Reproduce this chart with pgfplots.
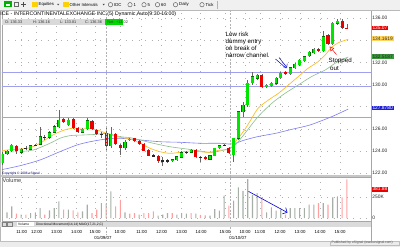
\documentclass[border=0pt]{standalone}
\usepackage{fontspec}
\setmainfont{Liberation Sans}
\usepackage{pgfplots}
\pgfplotsset{compat=1.18}
\usepackage{pgfplotstable}
\usetikzlibrary{arrows.meta}
\newcommand{\fs}[1]{\fontsize{#1}{#1}\selectfont}
\definecolor{cup}{RGB}{0,230,0}
\definecolor{cupedge}{RGB}{0,110,0}
\definecolor{cdn}{RGB}{235,0,0}
\definecolor{maY}{RGB}{255,190,40}
\definecolor{maG}{RGB}{140,190,140}
\definecolor{maB}{RGB}{125,125,240}
\definecolor{hline}{RGB}{160,160,238}
\definecolor{volG}{RGB}{165,175,165}
\definecolor{volP}{RGB}{255,160,160}
\definecolor{gridc}{RGB}{175,175,175}

\pgfplotstableread{
i o h l c t
0 122.90 123.90 122.70 123.70 1
1 123.70 124.10 123.60 124.00 1
2 124.00 124.60 123.90 124.50 1
3 124.40 124.50 123.75 123.95 -1
4 123.87 124.30 123.70 124.17 1
5 124.22 124.40 124.05 124.25 0
6 124.14 124.55 124.05 124.47 1
7 124.50 124.65 124.40 124.55 0
8 124.60 126.20 124.50 125.29 1
9 125.20 125.40 125.00 125.25 0
10 125.23 125.80 125.10 125.65 1
11 125.68 126.30 125.60 126.19 1
12 126.19 127.70 126.10 126.80 1
13 126.89 127.00 126.50 126.59 -1
14 126.34 126.95 126.25 126.80 1
15 126.86 126.95 125.95 126.05 -1
16 126.05 126.15 125.60 125.68 -1
17 125.68 126.10 125.60 125.99 1
18 125.99 126.95 125.90 126.74 1
19 126.74 126.80 125.90 125.99 -1
20 125.90 126.00 125.40 125.50 -1
21 125.50 125.75 125.20 125.52 0
22 125.65 126.05 124.08 124.47 -1
23 124.47 126.20 124.30 125.50 1
24 125.50 125.60 124.50 124.60 -1
25 124.53 124.60 123.63 124.24 -1
26 124.24 124.95 124.10 124.83 1
27 124.98 125.20 124.90 125.10 1
28 125.14 125.20 124.85 124.92 -1
29 124.92 125.00 124.55 124.62 -1
30 124.62 124.70 123.95 124.02 -1
31 124.08 124.15 123.50 123.57 -1
32 123.60 123.70 123.45 123.55 0
33 123.57 123.65 122.88 123.09 -1
34 123.12 123.48 122.60 123.08 0
35 123.10 123.30 122.95 123.12 0
36 123.12 123.30 123.00 123.18 1
37 123.18 123.55 123.10 123.48 1
38 123.42 123.95 123.35 123.84 1
39 123.86 124.00 123.75 123.88 0
40 123.87 124.15 123.80 124.08 1
41 124.08 124.15 123.35 123.42 -1
42 123.44 123.50 123.02 123.40 0
43 123.42 123.50 123.15 123.24 -1
44 123.24 123.65 123.15 123.57 1
45 123.57 124.30 123.50 124.24 1
46 124.29 124.55 124.20 124.47 1
47 124.52 124.65 124.40 124.54 0
48 124.25 124.35 123.75 123.85 -1
49 123.63 125.20 123.02 125.14 1
50 125.14 127.65 125.00 127.55 1
51 127.55 128.45 127.10 128.15 1
52 128.15 130.42 128.00 130.12 1
53 130.12 131.17 129.95 130.72 1
54 130.57 131.00 130.40 130.87 1
55 130.87 131.00 129.70 129.81 -1
56 129.81 130.05 129.70 129.96 1
57 129.87 130.20 129.80 130.12 1
58 130.12 130.65 130.00 130.57 1
59 130.62 131.10 130.50 131.02 1
60 131.11 131.20 130.85 130.96 -1
61 130.96 131.60 130.90 131.53 1
62 131.48 131.95 131.40 131.84 1
63 131.77 132.30 131.70 132.23 1
64 132.14 132.60 132.05 132.53 1
65 132.59 133.00 132.50 132.92 1
66 132.89 133.35 132.80 133.22 1
67 133.22 133.30 132.95 133.04 -1
68 133.04 134.88 132.95 134.34 1
69 134.49 134.60 133.55 133.65 -1
70 133.65 135.65 133.60 135.55 1
71 135.55 135.95 135.40 135.78 1
72 135.76 135.90 135.00 135.10 -1
73 135.12 135.50 135.00 135.07 -1
}\candles

\pgfplotstableread{
i v t
0 138 1
1 67 1
2 138 1
3 51 -1
4 39 1
5 39 -1
6 59 1
7 67 1
8 119 1
9 39 -1
10 90 1
11 119 1
12 197 1
13 99 -1
14 99 1
15 90 -1
16 67 -1
17 78 1
18 158 1
19 59 -1
20 99 -1
21 178 1
22 170 -1
23 316 1
24 138 -1
25 217 -1
26 67 1
27 51 -1
28 59 -1
29 39 1
30 59 -1
31 59 -1
32 78 -1
33 28 1
34 39 1
35 59 1
36 59 -1
37 39 1
38 59 1
39 51 1
40 59 -1
41 51 1
42 36 -1
43 32 -1
44 28 1
45 106 1
46 87 1
47 265 1
48 146 -1
49 206 1
50 364 1
51 324 1
52 463 1
53 276 1
54 297 1
55 245 -1
56 67 1
57 126 1
58 87 1
59 99 1
60 39 -1
61 119 1
62 119 1
63 119 1
64 119 1
65 158 1
66 158 1
67 178 -1
68 178 1
69 158 -1
70 245 1
71 257 1
72 245 -1
73 460 -1
}\vols

\pgfplotsset{
 panel/.style={
  scale only axis, width=369bp,
  xmin=-0.0636, xmax=78.115,
  axis line style={draw=gray!70, line width=0.6bp},
  tick style={draw=none},
  xtick={4.11,7.29,11.53,15.76,19.64,24.94,29.53,33.77,38.01,41.88,47.18,51.42,54.6,58.84,63.08,67.31,71.55},
  xticklabels={},
  xmajorgrids, ymajorgrids,
  grid style={gridc, line width=0.45bp, dash pattern=on 0.5bp off 6bp},
  yticklabel pos=right,
  yticklabel style={font=\fs{4.9}, text=black!85, inner sep=1.2bp},
 },
 wick/.style={only marks, mark=*, mark size=0pt, mark options={draw opacity=0, fill opacity=0},
    error bars/.cd, y dir=both, y explicit, error mark=none,
    error bar style={line width=0.6bp, color=black!60}, /pgfplots/.cd},
 body/.style 2 args={only marks, mark=*, mark size=0pt, mark options={draw opacity=0, fill opacity=0},
    error bars/.cd, y dir=both, y explicit, error mark=none,
    error bar style={line width=#1, color=#2}, /pgfplots/.cd},
}

\begin{document}
\begin{tikzpicture}[x=1bp,y=1bp]
\path[use as bounding box] (0,0) rectangle (400,247);
\fill[white] (0,0) rectangle (400,247);

% ---------- price panel ----------
\begin{axis}[panel, name=price, at={(2bp,71.3bp)}, anchor=south west, height=165.7bp,
  ymin=121.756, ymax=136.751, ytick={122,124,126,128,130,132,134,136},
  yticklabels={122.00,124.00,126.00,,130.00,132.00,,136.00}]
\addplot[hline, line width=0.9bp] coordinates {(-1,131.10) (80,131.10)};
\addplot[hline, line width=0.9bp] coordinates {(-1,129.85) (80,129.85)};
\addplot[hline, line width=0.9bp] coordinates {(-1,127.05) (80,127.05)};
% moving averages
\addplot[maB, line width=0.6bp, smooth, tension=0.5] coordinates {
(-0.5,122.27) (3.75,122.66) (7.99,123.18) (12.2,123.93) (15.8,124.53) (18.6,124.83) (22.1,125.08) (24.9,125.14) (29.2,124.99) (33.4,124.83) (37.65,124.78) (41.9,124.69) (46.1,124.69) (48.2,124.62) (49.5,124.70) (51.06,124.95) (54.2,125.30) (58.0,125.60) (61.3,125.95) (65.2,126.35) (69.8,127.10) (73.3,127.79)};
\addplot[maG, line width=0.6bp, smooth, tension=0.5] coordinates {
(3.75,123.95) (6.57,124.08) (10.1,124.69) (12.2,125.14) (14.3,125.38) (17.2,125.44) (20.0,125.50) (22.1,125.59) (24.9,125.29) (27.05,125.20) (29.2,124.99) (32.0,124.69) (35.5,124.38) (39.1,124.17) (41.9,123.99) (44.0,123.87) (46.1,123.99) (48.2,124.24) (49.5,124.60) (51.4,125.59) (54.2,127.10) (57.1,128.31) (59.9,129.21) (62.7,129.96) (65.5,130.72) (68.4,131.32) (70.5,131.93) (72.2,132.30) (73.3,132.50)};
\addplot[maY, line width=0.7bp, smooth, tension=0.5] coordinates {
(-0.5,123.93) (0.93,124.08) (3.75,124.17) (5.87,124.29) (7.99,124.69) (10.1,125.29) (11.86,125.68) (13.64,125.95) (15.04,126.05) (17.9,126.05) (20.0,125.90) (22.1,125.59) (24.2,125.29) (27.05,125.08) (29.2,124.69) (31.3,124.24) (33.4,123.93) (35.5,123.78) (37.65,123.87) (39.8,123.99) (41.9,123.93) (44.0,123.87) (46.1,124.08) (48.2,124.17) (49.66,124.99) (51.06,125.74) (52.5,126.70) (54.2,127.86) (56.4,128.61) (58.5,129.21) (60.6,129.96) (62.7,130.72) (64.8,131.48) (66.9,132.07) (68.4,132.68) (69.8,133.38) (71.2,133.79) (73.3,134.10)};
% candles
\addplot[wick] table[x=i, y expr={(\thisrow{h}+\thisrow{l})/2}, y error expr={(\thisrow{h}-\thisrow{l})/2}] {\candles};
\addplot[restrict expr to domain={\thisrow{t}}{0.5:1.5}, body={3.1bp}{cupedge}]
  table[x=i, y expr={(\thisrow{o}+\thisrow{c})/2}, y error expr={max(abs(\thisrow{o}-\thisrow{c})/2,0.06)+0.02}] {\candles};
\addplot[restrict expr to domain={\thisrow{t}}{0.5:1.5}, body={2.6bp}{cup}]
  table[x=i, y expr={(\thisrow{o}+\thisrow{c})/2}, y error expr={max(abs(\thisrow{o}-\thisrow{c})/2,0.06)}] {\candles};
\addplot[restrict expr to domain={\thisrow{t}}{-1.5:-0.5}, body={3.1bp}{cdn}]
  table[x=i, y expr={(\thisrow{o}+\thisrow{c})/2}, y error expr={max(abs(\thisrow{o}-\thisrow{c})/2,0.06)}] {\candles};
\addplot[restrict expr to domain={\thisrow{t}}{-0.5:0.5}, body={3.1bp}{black!85}]
  table[x=i, y expr={(\thisrow{o}+\thisrow{c})/2}, y error expr={0.04}] {\candles};
\end{axis}

% ---------- volume panel ----------
\begin{axis}[panel, name=vol, at={(2bp,25.3bp)}, anchor=south west, height=44.7bp,
  ymin=-44, ymax=488, ytick={0,250}, yticklabels={0,250K}]
\addplot[ybar, bar width=1.1bp, bar shift=0pt, fill=volG, draw=none,
  restrict expr to domain={\thisrow{t}}{0.5:1.5}] table[x=i, y=v] {\vols};
\addplot[ybar, bar width=1.1bp, bar shift=0pt, fill=volP, draw=none,
  restrict expr to domain={\thisrow{t}}{-1.5:-0.5}] table[x=i, y=v] {\vols};
\end{axis}

% ---------- frame decorations ----------
\fill[gray!45] (0,70.2) rectangle (371,72);
\fill[gray!55] (0,6.3) rectangle (1,237);
\draw[gray!70, line width=0.6bp] (371,6.3) -- (371,237);
\foreach \xx in {106,230} {\draw[gray!60, line width=0.5bp, dash pattern=on 2bp off 1.5bp] (\xx,237) -- (\xx,12);}

% toolbar
\fill[gray!12] (0,237) rectangle (400,247);
\draw[gray!55, line width=0.5bp] (0,237) -- (400,237);
\fill[green!70!black] (4.5,240) rectangle (11.5,245.5); \fill[white] (6,241.2) rectangle (10,243);
\draw[black!60, line width=0.4bp] (14,240.5) rectangle (18.5,245); \draw[black!70, line width=0.5bp] (21,242.7) -- (26,242.7) (23.5,240.2) -- (23.5,245.2);
\fill[yellow!70!orange] (32,240) rectangle (37.5,244.5);
\node[anchor=west, inner sep=0, font=\fs{4.3}] at (38.5,242.3) {Equities};
\fill[black!70] (57,243.2) -- (59.4,243.2) -- (58.2,241.6) -- cycle;
\fill[yellow!70!orange] (63,240) rectangle (68.5,244.5);
\node[anchor=west, inner sep=0, font=\fs{4.3}] at (69.5,242.3) {Other Intervals};
\fill[black!70] (102.5,243.2) -- (104.9,243.2) -- (103.7,241.6) -- cycle;
\foreach \cx/\lab in {110.5/IDC,130/1,144/5,157.5/60,175.5/Daily,202/Tick} {
  \draw[black!70, line width=0.4bp] (\cx,242.3) circle (2.2bp);
  \node[anchor=west, inner sep=0, font=\fs{4.3}] at (\cx+3.5,242.3) {\lab};
}
\draw[gray!60] (217,238) -- (217,246);

% title and OHLC box
\node[anchor=west, inner sep=0, font=\fs{5.25}] at (0.3,232.7) {ICE - INTERCONTINENTALEXCHANGE INC,(5) Dynamic,Auto(9:30-16:00)};
\fill[gray!30] (2,221.9) rectangle (105,227.6);
\fill[green!85!black] (105,221.9) rectangle (123,227.6);
\begin{scope}[every node/.style={anchor=west, inner sep=0, font=\fs{3.9}, text=black!80}]
\node at (5,224.75) {O: 136.33};
\node at (33,224.75) {H: 136.16};
\node at (60,224.75) {L: 133.81};
\node at (85,224.75) {C: 136.36};
\node at (107.3,224.75) {Net: +13.02};
\end{scope}
\node[anchor=west, inner sep=0, font=\fs{3.3}, text=blue!40!black] at (2,73.8) {Copyright \textcopyright\ 2006 eSignal};

% annotations
\begin{scope}[every node/.style={anchor=mid west, inner sep=0, font=\fs{6.2}}]
\node at (225.5,213.4) {Low risk};
\node at (225.5,206.3) {dummy entry};
\node at (225.5,199.3) {on break of};
\node at (225.5,192.3) {narrow channel.};
\node at (328.5,186.8) {Stopped};
\node at (330,179.2) {out};
\end{scope}
\draw[blue!85!black, line width=0.5bp] (275.5,188) -- (286.2,178.8);
\draw[blue!85!black, line width=0.5bp, -{Straight Barb[length=2.6bp]}] (279,189.5) -- (287,179.4);
\draw[red, line width=0.5bp, -{Triangle[open, length=4.5bp, width=4.5bp]}] (336.5,192.5) -- (329.5,200.6);
\draw[blue!85!black, line width=0.6bp, -{Straight Barb[length=3.5bp]}] (248.5,55.6) -- (287.5,34.4);

% price-scale boxes
\begin{scope}[every node/.style={anchor=west, inner xsep=0.7bp, inner ysep=0.6bp, font=\fs{4.9}}]
\node[fill=cdn, text=white] at (371.6,219) {135.07};
\node[fill={rgb,255:red,255;green,212;blue,90}, text=black!80] at (371.6,208.5) {134.1619};
\node[fill={rgb,255:red,60;green,150;blue,60}, text=black!85] at (371.6,190.3) {132.5187};
\node[fill={rgb,255:red,30;green,30;blue,215}, text=white] at (371.6,139) {127.8780};
\node[fill=cdn, text=white] at (371.6,57.7) {381.88};
\end{scope}
\node[anchor=west, inner sep=0, font=\fs{5.6}, text=black!75] at (2.5,66) {Volume};

% tab bar
\fill[gray!28] (0,20.3) rectangle (371,25.3);
\draw[black!50, line width=0.3bp] (2,21) rectangle (6.5,24.6) (7.3,21) rectangle (11.8,24.6);
\fill[white] (16.5,20.6) rectangle (34,25.3);
\begin{scope}[every node/.style={anchor=west, inner sep=0, font=\fs{3.3}}]
\node at (18,22.8) {Volume};
\node at (36,22.8) {Directional Movement(14,14)};
\node at (79,22.8) {MAO(17,21,2,C)};
\end{scope}

% time labels
\foreach \tx/\tl in {21.7/11:00,36.7/12:00,56.7/13:00,76.7/14:00,95/15:00,120/10:00,141.7/11:00,161.7/12:00,181.7/13:00,201/14:00,225/15:00,245/10:00,260/11:00,280/12:00,300/13:00,320/14:00,340/15:00} {
  \node[inner sep=0, font=\fs{4.4}] at (\tx,15.3) {\tl};
}
\node[inner sep=0, font=\fs{4.4}] at (103,8.7) {01/09/07};
\node[inner sep=0, font=\fs{4.4}] at (238,8.7) {01/10/07};

% status bar
\fill[gray!15] (0,0) rectangle (400,6.3);
\draw[gray!50, line width=0.4bp] (0,6.3) -- (400,6.3);
\draw[gray!50, line width=0.3bp] (330,1.8) rectangle (399.5,6);
\node[anchor=west, inner sep=0, font=\fs{3.4}, text=black!70] at (331.5,3.9) {Published by eSignal (www.esignal.com)};
\end{tikzpicture}
\end{document}
